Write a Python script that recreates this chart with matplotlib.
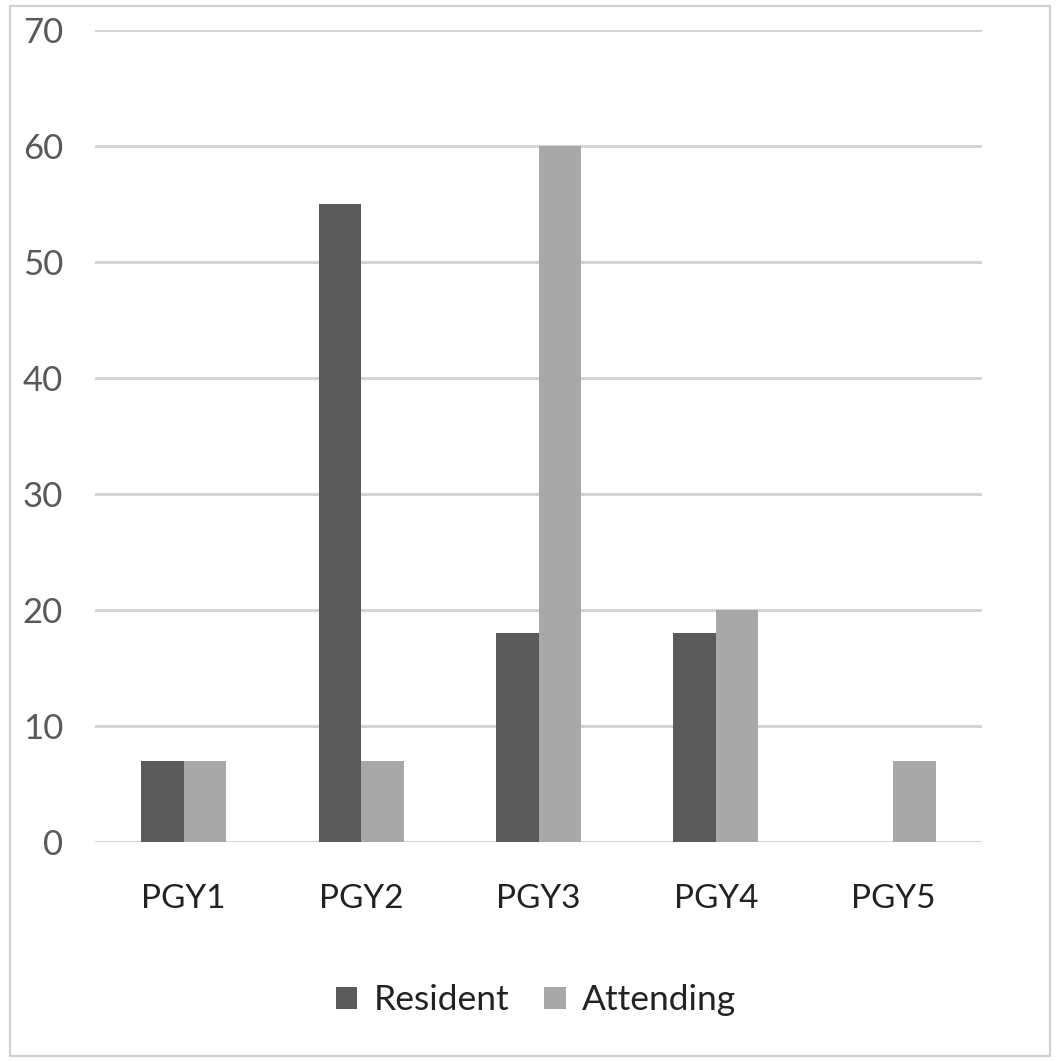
import numpy as np
import matplotlib.pyplot as plt
from matplotlib.patches import Rectangle

plt.rcParams['font.family'] = ['Lato', 'DejaVu Sans']

categories = ['PGY1', 'PGY2', 'PGY3', 'PGY4', 'PGY5']
resident = [7, 55, 18, 18, 0]
attending = [7, 7, 60, 20, 7]

fig = plt.figure(figsize=(10.57, 10.61), dpi=100)
fig.patches.append(Rectangle((0.009, 0.005), 0.984, 0.989, transform=fig.transFigure,
                             fill=False, edgecolor='#d0d0d0', linewidth=1.5))

ax = fig.add_axes([95 / 1057, 219 / 1061, 887 / 1057, 812 / 1061])
x = np.arange(len(categories))
w = 0.24
ax.bar(x - w / 2, resident, w, color='#5a5a5a', label='Resident', zorder=3)
ax.bar(x + w / 2, attending, w, color='#a8a8a8', label='Attending', zorder=3)

ax.set_xlim(-0.5, len(categories) - 0.5)
ax.set_ylim(0, 70)
ax.set_yticks(range(0, 71, 10))
ax.set_xticks(x)
ax.set_xticklabels(categories)
ax.yaxis.grid(True, color='#d4d4d4', linewidth=2.2, zorder=0)
ax.tick_params(axis='y', length=0, pad=23, labelsize=25, labelcolor='#595959')
ax.tick_params(axis='x', length=0, pad=30, labelsize=24, labelcolor='#222222')
for s in ax.spines.values():
    s.set_visible(False)

ax.legend(loc='center', bbox_to_anchor=(0.497, -0.195), ncol=2, frameon=False,
          fontsize=25.5, handlelength=0.6, handleheight=0.6, handletextpad=0.45,
          columnspacing=1.0, labelcolor='#222222')

fig.savefig('out.png', dpi=100, facecolor='white')
